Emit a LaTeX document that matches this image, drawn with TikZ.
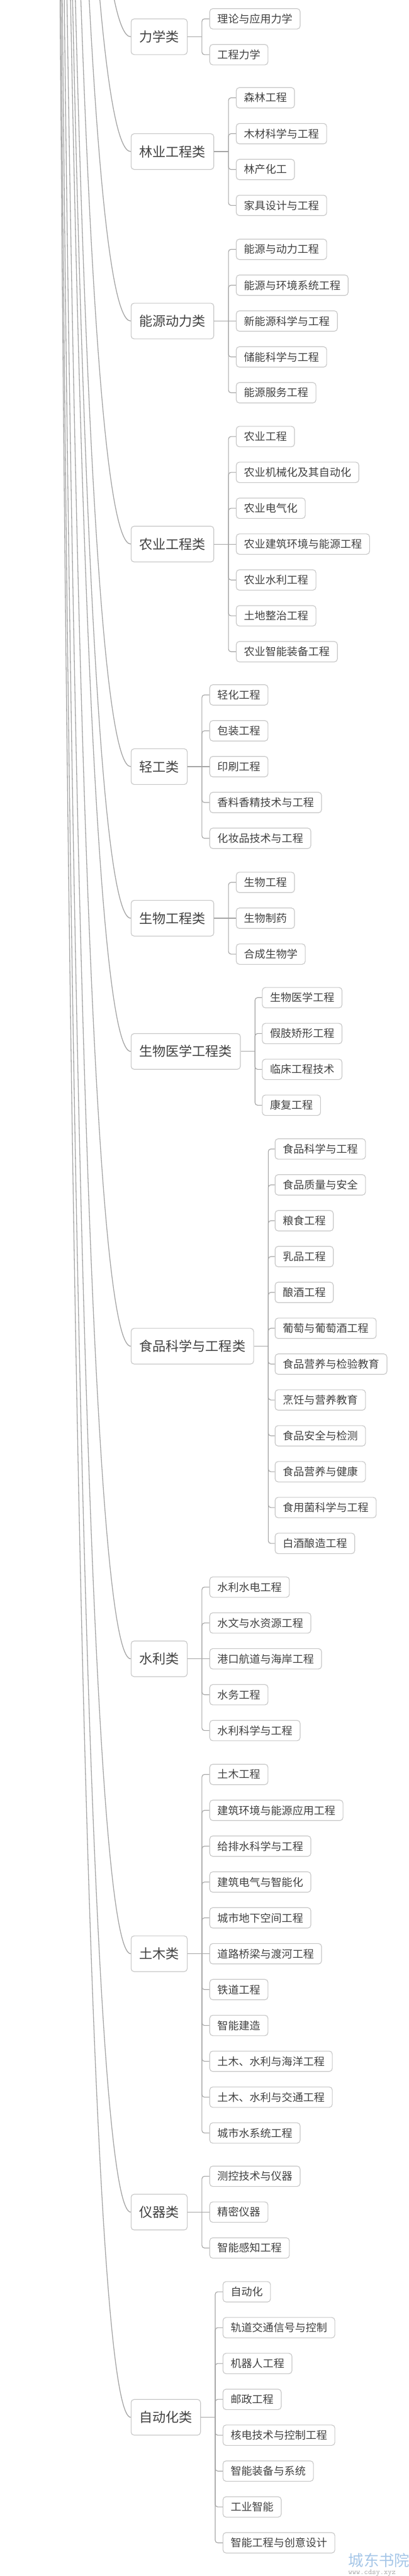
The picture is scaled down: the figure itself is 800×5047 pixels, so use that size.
\documentclass[tikz,border=0pt]{standalone}
\usepackage{fontspec}
\usepackage{tikz}
\usepackage{xcolor}
\usetikzlibrary{calc}
\newfontfamily\cjk{Noto Sans CJK SC}
\definecolor{boxgray}{RGB}{200,200,200}
\definecolor{linegray}{RGB}{166,166,166}
\definecolor{txtgray}{RGB}{64,64,64}
\definecolor{wmblue}{RGB}{165,198,232}
\tikzset{
  cat/.style={draw=boxgray, line width=1.4pt, rounded corners=6pt, fill=white, text=txtgray,
    font=\cjk\fontsize{26}{26}\selectfont, minimum height=70pt, inner xsep=16pt, anchor=west},
  leaf/.style={draw=boxgray, line width=1.4pt, rounded corners=6pt, fill=white, text=txtgray,
    font=\cjk\fontsize{21}{21}\selectfont, minimum height=40pt, inner xsep=15pt, anchor=west},
  trunk/.style={draw=linegray, line width=1.6pt},
  branch/.style={draw=linegray, line width=1.4pt, rounded corners=5pt}
}
\begin{document}
\begin{tikzpicture}[x=1pt,y=-1pt]
\useasboundingbox (0,0) rectangle (800,5047);
\fill[white] (0,0) rectangle (800,5047);
\coordinate (root) at (100,-6000);

% categories
\node[cat] (lixue) at (256,72) {力学类};
\node[cat] (linye) at (256,297) {林业工程类};
\node[cat] (nengyuan) at (256,629) {能源动力类};
\node[cat] (nongye) at (256,1066) {农业工程类};
\node[cat] (qinggong) at (256,1502) {轻工类};
\node[cat] (shengwu) at (256,1799) {生物工程类};
\node[cat] (yixue) at (256,2060) {生物医学工程类};
\node[cat] (shipin) at (256,2637.5) {食品科学与工程类};
\node[cat] (shuili) at (256,3250) {水利类};
\node[cat] (tumu) at (256,3827.8) {土木类};
\node[cat] (yiqi) at (256,4334) {仪器类};
\node[cat] (zidong) at (256,4736) {自动化类};

% majors
\node[leaf] (lixue-1) at (410,36.9) {理论与应用力学};
\node[leaf] (lixue-2) at (410,107.1) {工程力学};

\node[leaf] (linye-1) at (462,191.6) {森林工程};
\node[leaf] (linye-2) at (462,261.9) {木材科学与工程};
\node[leaf] (linye-3) at (462,332.1) {林产化工};
\node[leaf] (linye-4) at (462,402.4) {家具设计与工程};

\node[leaf] (nengyuan-1) at (462,488.5) {能源与动力工程};
\node[leaf] (nengyuan-2) at (462,558.8) {能源与环境系统工程};
\node[leaf] (nengyuan-3) at (462,629) {新能源科学与工程};
\node[leaf] (nengyuan-4) at (462,699.3) {储能科学与工程};
\node[leaf] (nengyuan-5) at (462,769.5) {能源服务工程};

\node[leaf] (nongye-1) at (462,855.3) {农业工程};
\node[leaf] (nongye-2) at (462,925.5) {农业机械化及其自动化};
\node[leaf] (nongye-3) at (462,995.8) {农业电气化};
\node[leaf] (nongye-4) at (462,1066) {农业建筑环境与能源工程};
\node[leaf] (nongye-5) at (462,1136.3) {农业水利工程};
\node[leaf] (nongye-6) at (462,1206.5) {土地整治工程};
\node[leaf] (nongye-7) at (462,1276.8) {农业智能装备工程};

\node[leaf] (qinggong-1) at (410,1361.5) {轻化工程};
\node[leaf] (qinggong-2) at (410,1431.8) {包装工程};
\node[leaf] (qinggong-3) at (410,1502) {印刷工程};
\node[leaf] (qinggong-4) at (410,1572.3) {香料香精技术与工程};
\node[leaf] (qinggong-5) at (410,1642.5) {化妆品技术与工程};

\node[leaf] (shengwu-1) at (462,1728.8) {生物工程};
\node[leaf] (shengwu-2) at (462,1799) {生物制药};
\node[leaf] (shengwu-3) at (462,1869.3) {合成生物学};

\node[leaf] (yixue-1) at (513,1954.6) {生物医学工程};
\node[leaf] (yixue-2) at (513,2024.9) {假肢矫形工程};
\node[leaf] (yixue-3) at (513,2095.1) {临床工程技术};
\node[leaf] (yixue-4) at (513,2165.4) {康复工程};

\node[leaf] (shipin-1) at (538,2251.1) {食品科学与工程};
\node[leaf] (shipin-2) at (538,2321.4) {食品质量与安全};
\node[leaf] (shipin-3) at (538,2391.6) {粮食工程};
\node[leaf] (shipin-4) at (538,2461.9) {乳品工程};
\node[leaf] (shipin-5) at (538,2532.1) {酿酒工程};
\node[leaf] (shipin-6) at (538,2602.4) {葡萄与葡萄酒工程};
\node[leaf] (shipin-7) at (538,2672.6) {食品营养与检验教育};
\node[leaf] (shipin-8) at (538,2742.9) {烹饪与营养教育};
\node[leaf] (shipin-9) at (538,2813.1) {食品安全与检测};
\node[leaf] (shipin-10) at (538,2883.4) {食品营养与健康};
\node[leaf] (shipin-11) at (538,2953.6) {食用菌科学与工程};
\node[leaf] (shipin-12) at (538,3023.9) {白酒酿造工程};

\node[leaf] (shuili-1) at (410,3109.5) {水利水电工程};
\node[leaf] (shuili-2) at (410,3179.8) {水文与水资源工程};
\node[leaf] (shuili-3) at (410,3250) {港口航道与海岸工程};
\node[leaf] (shuili-4) at (410,3320.3) {水务工程};
\node[leaf] (shuili-5) at (410,3390.5) {水利科学与工程};

\node[leaf] (tumu-1) at (410,3476.5) {土木工程};
\node[leaf] (tumu-2) at (410,3546.8) {建筑环境与能源应用工程};
\node[leaf] (tumu-3) at (410,3617) {给排水科学与工程};
\node[leaf] (tumu-4) at (410,3687.3) {建筑电气与智能化};
\node[leaf] (tumu-5) at (410,3757.5) {城市地下空间工程};
\node[leaf] (tumu-6) at (410,3827.8) {道路桥梁与渡河工程};
\node[leaf] (tumu-7) at (410,3898) {铁道工程};
\node[leaf] (tumu-8) at (410,3968.3) {智能建造};
\node[leaf] (tumu-9) at (410,4038.5) {土木、水利与海洋工程};
\node[leaf] (tumu-10) at (410,4108.8) {土木、水利与交通工程};
\node[leaf] (tumu-11) at (410,4179) {城市水系统工程};

\node[leaf] (yiqi-1) at (410,4263.8) {测控技术与仪器};
\node[leaf] (yiqi-2) at (410,4334) {精密仪器};
\node[leaf] (yiqi-3) at (410,4404.3) {智能感知工程};

\node[leaf] (zidong-1) at (436,4490.1) {自动化};
\node[leaf] (zidong-2) at (436,4560.4) {轨道交通信号与控制};
\node[leaf] (zidong-3) at (436,4630.6) {机器人工程};
\node[leaf] (zidong-4) at (436,4700.9) {邮政工程};
\node[leaf] (zidong-5) at (436,4771.1) {核电技术与控制工程};
\node[leaf] (zidong-6) at (436,4841.4) {智能装备与系统};
\node[leaf] (zidong-7) at (436,4911.6) {工业智能};
\node[leaf] (zidong-8) at (436,4981.9) {智能工程与创意设计};

% curves from the (cut off) root
\begin{scope}
\clip (0,0) rectangle (800,5047);
\foreach \c in {lixue,linye,nengyuan,nongye,qinggong,shengwu,yixue,shipin,shuili,tumu,yiqi,zidong}
  \draw[trunk] (root) .. controls ($(root)!2/3!(root |- \c.west)$) and ($(\c.west)!2/3!(root |- \c.west)$) .. (\c.west);
\end{scope}

% elbows to the majors
\foreach \c in {lixue,linye,nengyuan,nongye,qinggong,shengwu,yixue,shipin,shuili,tumu,yiqi,zidong}
  \coordinate (\c-j) at ([xshift=28pt]\c.east);

\draw[branch] (lixue.east) -- (lixue-j);
\foreach \k in {1,2} \draw[branch] (lixue-j) |- (lixue-\k.west);
\draw[branch] (linye.east) -- (linye-j);
\foreach \k in {1,...,4} \draw[branch] (linye-j) |- (linye-\k.west);
\draw[branch] (nengyuan.east) -- (nengyuan-3.west);
\foreach \k in {1,2,4,5} \draw[branch] (nengyuan-j) |- (nengyuan-\k.west);
\draw[branch] (nongye.east) -- (nongye-4.west);
\foreach \k in {1,2,3,5,6,7} \draw[branch] (nongye-j) |- (nongye-\k.west);
\draw[branch] (qinggong.east) -- (qinggong-3.west);
\foreach \k in {1,2,4,5} \draw[branch] (qinggong-j) |- (qinggong-\k.west);
\draw[branch] (shengwu.east) -- (shengwu-2.west);
\foreach \k in {1,3} \draw[branch] (shengwu-j) |- (shengwu-\k.west);
\draw[branch] (yixue.east) -- (yixue-j);
\foreach \k in {1,...,4} \draw[branch] (yixue-j) |- (yixue-\k.west);
\draw[branch] (shipin.east) -- (shipin-j);
\foreach \k in {1,...,12} \draw[branch] (shipin-j) |- (shipin-\k.west);
\draw[branch] (shuili.east) -- (shuili-3.west);
\foreach \k in {1,2,4,5} \draw[branch] (shuili-j) |- (shuili-\k.west);
\draw[branch] (tumu.east) -- (tumu-6.west);
\foreach \k in {1,...,5,7,8,9,10,11} \draw[branch] (tumu-j) |- (tumu-\k.west);
\draw[branch] (yiqi.east) -- (yiqi-2.west);
\foreach \k in {1,3} \draw[branch] (yiqi-j) |- (yiqi-\k.west);
\draw[branch] (zidong.east) -- (zidong-j);
\foreach \k in {1,...,8} \draw[branch] (zidong-j) |- (zidong-\k.west);

% watermark
\node[anchor=north west, inner sep=0pt, text=wmblue, font=\cjk\fontsize{30}{30}\selectfont] (wmark) at (682,5002) {城东书院};
\node[anchor=north west, inner sep=0pt, text=gray!70, font=\ttfamily\fontsize{15}{15}\selectfont] (wmurl) at (682,5034) {www.cdsy.xyz};
\end{tikzpicture}
\end{document}
